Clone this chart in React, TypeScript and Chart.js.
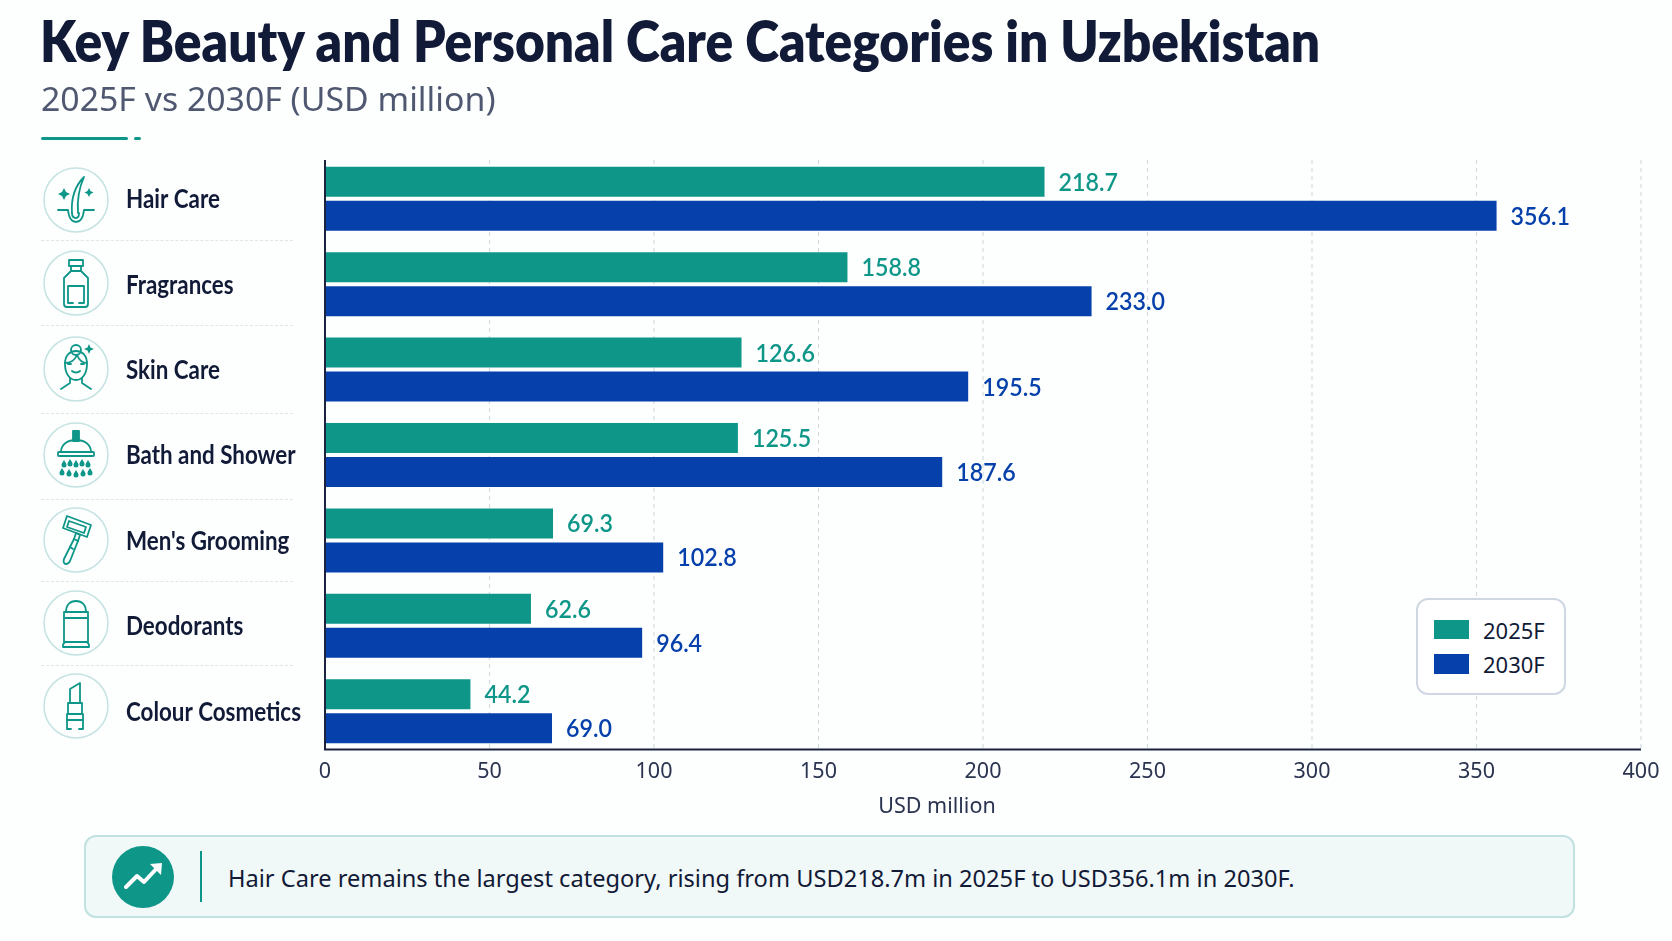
import { useEffect, useLayoutEffect, useRef, type CSSProperties, type ReactNode } from "react";
import { Chart, registerables, type Plugin } from "chart.js";

Chart.register(...registerables);

const categories = [
  "Hair Care",
  "Fragrances",
  "Skin Care",
  "Bath and Shower",
  "Men's Grooming",
  "Deodorants",
  "Colour Cosmetics",
];
const values2025 = [218.7, 158.8, 126.6, 125.5, 69.3, 62.6, 44.2];
const values2030 = [356.1, 233.0, 195.5, 187.6, 102.8, 96.4, 69.0];
const xTicks = [0, 50, 100, 150, 200, 250, 300, 350, 400];

const TEAL = "#0e9688";
const BLUE = "#0540ab";
const INK = "#111a36";
const TITLE_FONT = "Lato, sans-serif";
const BODY_FONT = "'Noto Sans', Lato, sans-serif";

// squeezes a line of text to the width it has in the picture
const FitText = ({ width, style, children }: { width: number; style: CSSProperties; children: ReactNode }) => {
  const ref = useRef<HTMLDivElement | null>(null);
  useLayoutEffect(() => {
    if (!ref.current) return;
    ref.current.style.transform = `scaleX(${width / ref.current.offsetWidth})`;
  }, [width]);
  return (
    <div ref={ref} style={{ position: "absolute", whiteSpace: "nowrap", transformOrigin: "left center", ...style }}>
      {children}
    </div>
  );
};

const squeezedText = (ctx: CanvasRenderingContext2D, text: string, x: number, y: number, squeeze: number) => {
  ctx.save();
  ctx.translate(x, y);
  ctx.scale(squeeze, 1);
  ctx.fillText(text, 0, 0);
  ctx.restore();
};

const axisLines: Plugin<"bar"> = {
  id: "axisLines",
  beforeDatasetsDraw(chart) {
    const { ctx, scales } = chart;
    const top = 160;
    const bottom = 749.5;
    ctx.save();
    ctx.strokeStyle = "#d3dce2";
    ctx.lineWidth = 1.2;
    ctx.setLineDash([4, 4]);
    xTicks.slice(1).forEach((t) => {
      const x = scales.x.getPixelForValue(t);
      ctx.beginPath();
      ctx.moveTo(x, top);
      ctx.lineTo(x, bottom);
      ctx.stroke();
    });
    ctx.restore();
  },
  afterDatasetsDraw(chart) {
    const { ctx, scales } = chart;
    const x0 = scales.x.getPixelForValue(0);
    const x1 = scales.x.getPixelForValue(400);
    ctx.save();
    ctx.strokeStyle = "#1b2340";
    ctx.lineWidth = 2;
    ctx.beginPath();
    ctx.moveTo(x0, 160);
    ctx.lineTo(x0, 749.5);
    ctx.lineTo(x1, 749.5);
    ctx.stroke();

    ctx.textAlign = "left";
    ctx.textBaseline = "middle";

    // value labels at the bar ends
    ctx.font = "600 25px Lato, sans-serif";
    chart.data.datasets.forEach((ds, i) => {
      ctx.fillStyle = ds.backgroundColor as string;
      chart.getDatasetMeta(i).data.forEach((bar, j) => {
        squeezedText(ctx, (ds.data[j] as number).toFixed(1), bar.x + 14, bar.y + 1, 0.93);
      });
    });

    // category names, narrower than any installed face
    ctx.font = "700 26px Lato, sans-serif";
    ctx.fillStyle = INK;
    categories.forEach((name, i) => {
      squeezedText(ctx, name, 126, scales.y.getPixelForValue(i) + 1, 0.86);
    });

    ctx.font = "21.5px 'Noto Sans', sans-serif";
    ctx.fillStyle = "#2a3350";
    ctx.textAlign = "center";
    ctx.fillText("USD million", 937, 807);
    ctx.restore();
  },
};

const Icon = ({ y, children }: { y: number; children: ReactNode }) => (
  <svg
    viewBox="0 0 66 66"
    width={66}
    height={66}
    fill="none"
    stroke={TEAL}
    strokeWidth={1.8}
    strokeLinejoin="round"
    strokeLinecap="round"
    style={{ position: "absolute", left: 42.5, top: y - 33 }}
  >
    <circle cx={33} cy={33} r={32} stroke="#c5e3e2" strokeWidth={1.5} />
    {children}
  </svg>
);

const drop = (x: number, y: number) => `M${x} ${y}c-2 3-2.5 4-2.5 5a2.5 2.5 0 0 0 5 0c0-1-.5-2-2.5-5z`;

const icons: ReactNode[] = [
  <>
    <path d="M15 43h10c1 9 4 12 8 12s7-3 8-12h10" />
    <path d="M29 46c-1-14 2-26 12-36-5 11-7 23-6 36" />
    <path d="M29 46c0 4 2 5 4 5s3-1 3-5" />
    <path d="M21 21l2 4 4 2-4 2-2 4-2-4-4-2 4-2zM46 21l1.500 3 3 1.500-3 1.500-1.500 3-1.500-3-3-1.500 3-1.500z" fill={TEAL} stroke="none" />
  </>,
  <>
    <path d="M26 10h14v6H26zM28 16v5h10v-5" />
    <path d="M28 21l-7 7v26c0 2 1 3 3 3h18c2 0 3-1 3-3V28l-7-7" />
    <path d="M25 36h16M25 36v17h5M41 36v17h-5" />
  </>,
  <>
    <circle cx={33} cy={14} r={5} />
    <path d="M22 28c0-9 5-13 11-13s11 4 11 13c0 10-5 16-11 16s-11-6-11-16z" />
    <path d="M22 27c5 0 10-3 12-8 2 5 6 8 10 8" />
    <path d="M29 35c2 2 6 2 8 0M25 28h3M38 28h3" />
    <path d="M27 42v5l-9 6M39 42v5l9 6" />
    <path d="M46 8l1.500 3.500 3.500 1.500-3.500 1.500-1.500 3.500-1.500-3.500-3.500-1.500 3.500-1.500z" fill={TEAL} stroke="none" />
  </>,
  <>
    <path d="M30 9h6v10h-6z" fill={TEAL} />
    <path d="M18 30c0-8 7-12 15-12s15 4 15 12" />
    <rect x={15} y={30} width={36} height={4} rx={1} />
    <path
      d={[drop(21, 38), drop(27, 37), drop(33, 38), drop(39, 37), drop(45, 38), drop(19, 46), drop(26, 47), drop(33, 48), drop(40, 47), drop(47, 46)].join("")}
      fill={TEAL}
      stroke="none"
    />
  </>,
  <>
    <path d="M24 9l24 9-4 12-24-9z" />
    <path d="M26 14l17 6-2 6-17-6z" />
    <path d="M33 26l-2 6 4 2 2-6z" />
    <path d="M31 32l-10 20c-1 3 0 5 2 5s3-1 4-3l8-20" />
    <path d="M27 40l3 2" />
  </>,
  <>
    <path d="M23 22c0-7 4-11 10-11s10 4 10 11" />
    <path d="M21 22h24v30H21z" />
    <path d="M22 52c0 1-2 1-2 3v2h26v-2c0-2-2-2-2-3" />
    <path d="M21 28h24" />
  </>,
  <>
    <path d="M27 30V16l10-6v20" />
    <path d="M25 30h14v11H25z" />
    <path d="M24 41h16v6H24z" />
    <path d="M24 47v9h4M40 47v9h-4" />
  </>,
];
const iconRows = [199.5, 282.5, 369, 455, 539.5, 622.5, 706];
const separators = [240, 325, 412.5, 499, 581, 665];

const App = () => {
  const chartRef = useRef<HTMLCanvasElement | null>(null);

  useEffect(() => {
    if (!chartRef.current) return;
    document.body.style.margin = "0";

    const chart = new Chart(chartRef.current, {
      type: "bar",
      data: {
        labels: categories,
        datasets: [
          { label: "2025F", data: values2025, backgroundColor: TEAL, categoryPercentage: 0.796, barPercentage: 0.882 },
          { label: "2030F", data: values2030, backgroundColor: BLUE, categoryPercentage: 0.796, barPercentage: 0.882 },
        ],
      },
      options: {
        indexAxis: "y",
        responsive: false,
        animation: false,
        layout: { padding: { left: 126, top: 156, right: 31, bottom: 147 } },
        plugins: { legend: { display: false }, tooltip: { enabled: false } },
        scales: {
          x: {
            min: 0,
            max: 400,
            afterFit: (s) => {
              s.height = 40;
            },
            afterBuildTicks: (s) => {
              s.ticks = xTicks.map((value) => ({ value }));
            },
            border: { display: false },
            grid: { display: false },
            ticks: { color: "#2a3350", font: { family: BODY_FONT, size: 21.5 }, padding: -3.5, maxRotation: 0 },
          },
          y: {
            afterFit: (s) => {
              s.width = 199;
            },
            border: { display: false },
            grid: { display: false },
            ticks: { display: false },
          },
        },
      },
      plugins: [axisLines],
    });

    return () => chart.destroy();
  }, []);

  return (
    <div style={{ position: "relative", width: 1672, height: 941, background: "#fdfefe", overflow: "hidden", fontFamily: BODY_FONT }}>
      <canvas ref={chartRef} width={1672} height={941} style={{ position: "absolute", left: 0, top: 0 }} />

      <FitText width={1280} style={{ left: 40, top: 8, fontSize: 56, lineHeight: "66px", fontWeight: 800, fontFamily: TITLE_FONT, color: INK }}>
        Key Beauty and Personal Care Categories in Uzbekistan
      </FitText>
      <FitText width={455} style={{ left: 41, top: 77, fontSize: 33, lineHeight: "44px", color: "#4f5870" }}>
        2025F vs 2030F (USD million)
      </FitText>
      <div style={{ position: "absolute", left: 41, top: 137, width: 87, height: 3, background: TEAL, borderRadius: 2 }} />
      <div style={{ position: "absolute", left: 134, top: 137, width: 7, height: 3, background: TEAL, borderRadius: 2 }} />

      {icons.map((icon, i) => (
        <Icon key={categories[i]} y={iconRows[i]}>
          {icon}
        </Icon>
      ))}
      {separators.map((y) => (
        <div key={y} style={{ position: "absolute", left: 41, top: y, width: 252, borderTop: "1px dashed #dfe5e8" }} />
      ))}

      <div style={{ position: "absolute", left: 1416, top: 598, width: 150, height: 97, boxSizing: "border-box", border: "2px solid #cfd7e2", borderRadius: 12, background: "#fff" }} />
      {[
        { name: "2025F", color: TEAL, top: 619.5 },
        { name: "2030F", color: BLUE, top: 654 },
      ].map((item) => (
        <div key={item.name}>
          <div style={{ position: "absolute", left: 1434, top: item.top, width: 35, height: 19.5, background: item.color }} />
          <div style={{ position: "absolute", left: 1483, top: item.top - 4, fontSize: 22, lineHeight: "28px", color: INK }}>{item.name}</div>
        </div>
      ))}

      <div style={{ position: "absolute", left: 84, top: 835, width: 1491, height: 83, boxSizing: "border-box", border: "2px solid #c2e1e1", borderRadius: 12, background: "#f1f8f8" }} />
      <svg width={62} height={62} viewBox="0 0 62 62" style={{ position: "absolute", left: 112, top: 845.5 }}>
        <circle cx={31} cy={31} r={31} fill={TEAL} />
        <path d="M14 41l11-11 7 6 14-15" fill="none" stroke="#fff" strokeWidth={4} strokeLinecap="round" strokeLinejoin="round" />
        <path d="M38 18l12-1-1 12z" fill="#fff" />
      </svg>
      <div style={{ position: "absolute", left: 200, top: 851, width: 2, height: 51, background: TEAL }} />
      <FitText width={1067} style={{ left: 228, top: 862, fontSize: 24, lineHeight: "32px", color: INK }}>
        Hair Care remains the largest category, rising from USD218.7m in 2025F to USD356.1m in 2030F.
      </FitText>
    </div>
  );
};

export default App;
